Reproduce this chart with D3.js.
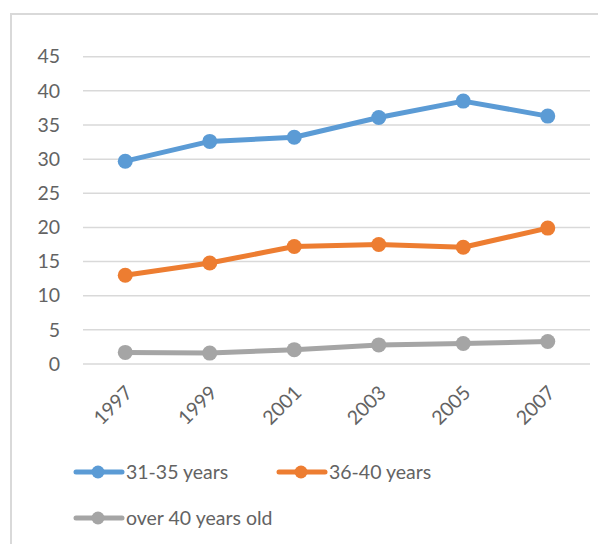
<!DOCTYPE html>
<html>
<head>
<meta charset="utf-8">
<script src="https://cdn.jsdelivr.net/npm/d3@7"></script>
<style>
  body { margin: 0; background: #fff; }
  text { font-family: Lato, "Liberation Sans", sans-serif; fill: #636363; }
</style>
</head>
<body>
<div id="chart"></div>
<script>
// data
var years = ["1997", "1999", "2001", "2003", "2005", "2007"];
var age31_35 = [29.7, 32.6, 33.2, 36.1, 38.5, 36.3];
var age36_40 = [13.0, 14.8, 17.2, 17.5, 17.1, 19.9];
var over40 = [1.7, 1.6, 2.1, 2.8, 3.0, 3.3];
var seriesNames = ["31-35 years", "36-40 years", "over 40 years old"];
var yTicks = [0, 5, 10, 15, 20, 25, 30, 35, 40, 45];

const colors = ["#5B9BD5", "#ED7D31", "#A5A5A5"];
const W = 598, H = 544;
const plot = {left: 83, right: 590, top: 56.7, bottom: 364};
const fontSize = 19.5;

var series = [age31_35, age36_40, over40].map(function(vals, i) {
    return {name: seriesNames[i], color: colors[i], values: vals};
});

var svg = d3.select("#chart").append("svg")
    .attr("width", W)
    .attr("height", H);

// chart area border (left and top edges only visible)
svg.append("path")
    .attr("d", "M11," + H + "V14H" + W)
    .attr("fill", "none")
    .attr("stroke", "#d9d9d9")
    .attr("stroke-width", 2);

var x = d3.scalePoint().domain(years).range([plot.left, plot.right]).padding(0.5);
var y = d3.scaleLinear().domain([0, 45]).range([plot.bottom, plot.top]);

// gridlines
svg.append("g")
    .selectAll("line")
    .data(yTicks)
    .enter()
    .append("line")
    .attr("x1", plot.left)
    .attr("x2", plot.right)
    .attr("y1", function(d) { return y(d); })
    .attr("y2", function(d) { return y(d); })
    .attr("stroke", "#d9d9d9")
    .attr("stroke-width", 1.5);

// y axis labels
var yAxis = d3.axisLeft(y).tickValues(yTicks).tickSize(0).tickPadding(0);
var yg = svg.append("g")
    .attr("transform", "translate(60,0)")
    .call(yAxis);
yg.select(".domain").remove();
yg.selectAll("text")
    .attr("font-size", fontSize)
    .attr("font-family", "Lato, 'Liberation Sans', sans-serif")
    .attr("fill", "#636363");

// x axis labels, rotated
var xAxis = d3.axisBottom(x).tickSize(0).tickPadding(0);
var xg = svg.append("g")
    .attr("transform", "translate(0," + plot.bottom + ")")
    .call(xAxis);
xg.select(".domain").remove();
xg.selectAll("text")
    .attr("font-size", fontSize)
    .attr("font-family", "Lato, 'Liberation Sans', sans-serif")
    .attr("fill", "#636363")
    .attr("text-anchor", "end")
    .attr("dy", 0)
    .attr("transform", "translate(8,30) rotate(-45)");

var line = d3.line()
    .x(function(d, i) { return x(years[i]); })
    .y(function(d) { return y(d); });

var lines = svg.append("g");
series.forEach(function(s) {
    lines.append("path")
        .datum(s.values)
        .attr("d", line)
        .attr("fill", "none")
        .attr("stroke", s.color)
        .attr("stroke-width", 5)
        .attr("stroke-linejoin", "round");
    lines.selectAll(null)
        .data(s.values)
        .enter()
        .append("circle")
        .attr("cx", function(d, i) { return x(years[i]); })
        .attr("cy", function(d) { return y(d); })
        .attr("r", 7.5)
        .attr("fill", s.color);
});

// legend
var legendPos = [[74, 472], [277, 472], [74, 518]];
var legend = svg.append("g");
series.forEach(function(s, i) {
    var g = legend.append("g")
        .attr("transform", "translate(" + legendPos[i][0] + "," + legendPos[i][1] + ")");
    g.append("line")
        .attr("x1", 2).attr("x2", 48)
        .attr("stroke", s.color)
        .attr("stroke-width", 5)
        .attr("stroke-linecap", "round");
    g.append("circle")
        .attr("cx", 24)
        .attr("r", 6.5)
        .attr("fill", s.color);
    g.append("text")
        .attr("x", 52)
        .attr("dy", "0.35em")
        .attr("font-size", fontSize)
        .text(s.name);
});
</script>
</body>
</html>
